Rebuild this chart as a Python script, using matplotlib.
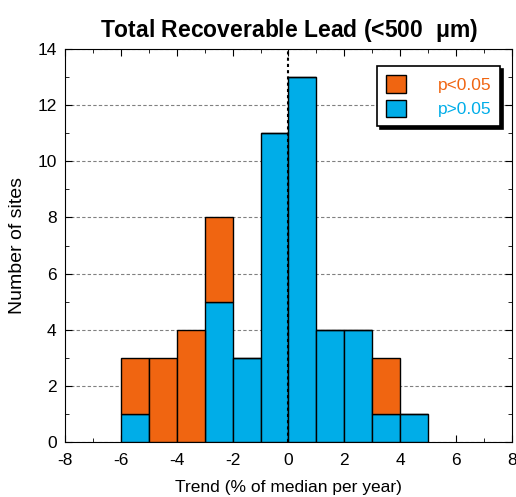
import numpy as np
import matplotlib.pyplot as plt
from matplotlib.ticker import MultipleLocator

# %% podaci

bin_edges = [-6, -5, -4, -3, -2, -1, 0, 1, 2, 3, 4, 5]
n_sig     = [2, 3, 4, 3, 0, 0, 0, 0, 0, 2, 0]     # p<0.05
n_nonsig  = [1, 0, 0, 5, 3, 11, 13, 4, 4, 1, 1]   # p>0.05

ORANGE = '#F06511'
BLUE   = '#00ADE8'

plt.rcParams['font.family'] = ['Liberation Sans', 'DejaVu Sans']
plt.rcParams['axes.unicode_minus'] = False

# %% grafik

fig = plt.figure(figsize=(5.16, 4.97), dpi=100)
ax = fig.add_axes([0.126, 0.111, 0.866, 0.79])

left = np.array(bin_edges[:-1])
width = np.diff(bin_edges)
ax.bar(left, n_nonsig, width=width, align='edge', color=BLUE,
       edgecolor='black', linewidth=1.0, label='p>0.05', zorder=3)
ax.bar(left, n_sig, width=width, bottom=n_nonsig, align='edge', color=ORANGE,
       edgecolor='black', linewidth=1.0, label='p<0.05', zorder=3)

ax.axvline(0, color='black', linestyle=(0, (1.5, 1.5)), linewidth=1.5, zorder=4)

ax.set_xlim(-8, 8)
ax.set_ylim(0, 14)
ax.xaxis.set_major_locator(MultipleLocator(2))
ax.xaxis.set_minor_locator(MultipleLocator(1))
ax.yaxis.set_major_locator(MultipleLocator(2))
ax.yaxis.set_minor_locator(MultipleLocator(1))
ax.tick_params(which='both', direction='in', top=True, right=True, labelsize=12.5)
ax.tick_params(which='major', length=5, pad=6)
ax.tick_params(axis='x', which='major', pad=8)
ax.tick_params(which='minor', length=3)
ax.grid(axis='y', which='major', color='gray', linestyle=(0, (3, 2)), linewidth=0.8, zorder=0)

ax.set_title('Total Recoverable Lead (<500  $\\mathregular{\\mu}$m)',
             fontsize=16.5, fontweight='bold', pad=9)
ax.set_xlabel('Trend (% of median per year)', fontsize=12.5, labelpad=9)
ax.set_ylabel('Number of sites', fontsize=14, labelpad=8)

# legenda: p<0.05 gore, p>0.05 dole
handles, labels = ax.get_legend_handles_labels()
leg = ax.legend(handles[::-1], labels[::-1], loc='upper right',
                bbox_to_anchor=(0.985, 0.97), fontsize=12.5, frameon=True,
                fancybox=False, shadow={'color': 'black', 'alpha': 1.0},
                edgecolor='black', handlelength=1.2, handleheight=1.2,
                handletextpad=1.8, borderpad=0.5, borderaxespad=0.3,
                labelspacing=0.4)
leg.get_frame().set_linewidth(1.2)
for txt, c in zip(leg.get_texts(), [ORANGE, BLUE]):
    txt.set_color(c)

fig.savefig('out.png', dpi=100)
